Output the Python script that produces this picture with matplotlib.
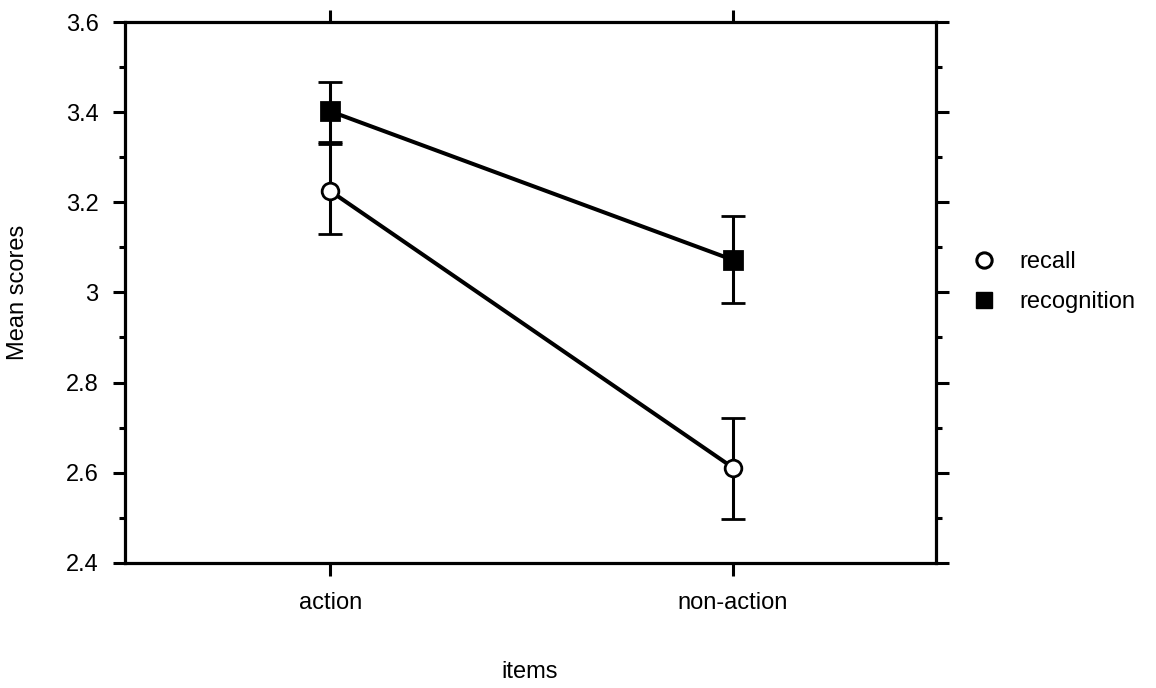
import numpy as np
import matplotlib
matplotlib.use('Agg')
import matplotlib.pyplot as plt
from matplotlib.lines import Line2D

plt.rcParams['font.family'] = ['Liberation Sans', 'DejaVu Sans']

items = ['action', 'non-action']
recall = [3.225, 2.611]
recall_lo = [3.130, 2.497]
recall_hi = [3.330, 2.722]
recog = [3.402, 3.072]
recog_lo = [3.333, 2.976]
recog_hi = [3.468, 3.170]

yticks = [2.4, 2.6, 2.8, 3.0, 3.2, 3.4, 3.6]
ytick_labels = ['2.4', '2.6', '2.8', '3', '3.2', '3.4', '3.6']

x = np.arange(len(items))
fs = 17

fig = plt.figure(figsize=(11.56, 6.88), dpi=100)
ax = fig.add_axes([0.108, 0.182, 0.702, 0.786])

def draw(vals, lo, hi, marker, mfc, ms):
    vals = np.array(vals)
    yerr = [vals - np.array(lo), np.array(hi) - vals]
    ax.errorbar(x, vals, yerr=yerr, color='k', lw=2.9, elinewidth=2.2,
                capsize=8.5, capthick=2.4, marker=marker, ms=ms,
                mfc=mfc, mec='k', mew=2.0, zorder=3)

draw(recall, recall_lo, recall_hi, 'o', 'white', 12)
draw(recog, recog_lo, recog_hi, 's', 'k', 13)

ax.set_xlim(-0.51, 1.505)
ax.set_ylim(2.4, 3.6)
ax.set_xticks(x)
ax.set_xticklabels(items, fontsize=fs)
ax.set_yticks(yticks)
ax.set_yticklabels(ytick_labels, fontsize=fs)
ax.set_yticks(np.arange(2.5, 3.6, 0.2), minor=True)

for s in ax.spines.values():
    s.set_linewidth(2.3)

ax.tick_params(axis='both', which='major', direction='out', length=9, width=2.2,
               top=True, right=True)
ax.tick_params(axis='x', pad=12)
ax.tick_params(axis='y', pad=10)
ax.tick_params(axis='y', which='minor', direction='out', length=4, width=2.2,
               right=True)
ax.tick_params(axis='x', labeltop=False)
ax.tick_params(axis='y', labelright=False)

ax.set_ylabel('Mean scores', fontsize=fs, labelpad=26)
fig.text(0.4585, 0.023, 'items', fontsize=fs, ha='center', va='center')

handles = [Line2D([], [], ls='none', marker='o', ms=11, mfc='white', mec='k', mew=2.2),
           Line2D([], [], ls='none', marker='s', ms=12, mfc='k', mec='k')]
fig.legend(handles, ['recall', 'recognition'], loc='center left',
           bbox_to_anchor=(0.823, 0.590), frameon=False, fontsize=fs,
           handletextpad=1.0, labelspacing=0.75, handlelength=1.0)

fig.savefig('out.png', dpi=100)
